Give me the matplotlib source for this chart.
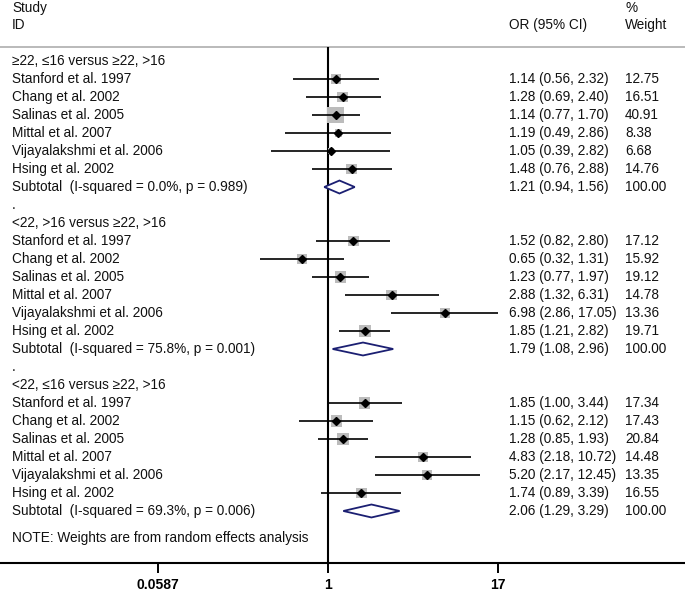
import numpy as np
import matplotlib
matplotlib.use("Agg")
import matplotlib.pyplot as plt
import matplotlib.transforms as mtransforms

plt.rcParams["font.family"] = ["Liberation Sans", "DejaVu Sans"]
plt.rcParams["font.size"] = 9.8

# >>>>>>>>>>>>>> data
studies = ["Stanford et al. 1997", "Chang et al. 2002", "Salinas et al. 2005",
           "Mittal et al. 2007", "Vijayalakshmi et al. 2006", "Hsing et al. 2002"]
group_titles = ["\u226522, \u226416 versus \u226522, >16",
                "<22, >16 versus \u226522, >16",
                "<22, \u226416 versus \u226522, >16"]

or_g1 = [1.14, 1.28, 1.14, 1.19, 1.05, 1.48]
lo_g1 = [0.56, 0.69, 0.77, 0.49, 0.39, 0.76]
hi_g1 = [2.32, 2.40, 1.70, 2.86, 2.82, 2.88]
wt_g1 = [12.75, 16.51, 40.91, 8.38, 6.68, 14.76]

or_g2 = [1.52, 0.65, 1.23, 2.88, 6.98, 1.85]
lo_g2 = [0.82, 0.32, 0.77, 1.32, 2.86, 1.21]
hi_g2 = [2.80, 1.31, 1.97, 6.31, 17.05, 2.82]
wt_g2 = [17.12, 15.92, 19.12, 14.78, 13.36, 19.71]

or_g3 = [1.85, 1.15, 1.28, 4.83, 5.20, 1.74]
lo_g3 = [1.00, 0.62, 0.85, 2.18, 2.17, 0.89]
hi_g3 = [3.44, 2.12, 1.93, 10.72, 12.45, 3.39]
wt_g3 = [17.34, 17.43, 20.84, 14.48, 13.35, 16.55]

sub_or = [1.21, 1.79, 2.06]
sub_lo = [0.94, 1.08, 1.29]
sub_hi = [1.56, 2.96, 3.29]
sub_i2 = ["0.0", "75.8", "69.3"]
sub_p = ["0.989", "0.001", "0.006"]

tick_vals = [0.0587, 1, 17]
tick_labels = ["0.0587", "1", "17"]

groups = [(or_g1, lo_g1, hi_g1, wt_g1),
          (or_g2, lo_g2, hi_g2, wt_g2),
          (or_g3, lo_g3, hi_g3, wt_g3)]

# >>>>>>>>>>>>>> layout
px_per_ln = 60.1
x_one = 328.0
fig_w, fig_h = 685, 591
fig = plt.figure(figsize=(fig_w / 100, fig_h / 100), dpi=100)
ax = fig.add_axes([0, (fig_h - 563) / fig_h, 1, 563 / fig_h])
ax.set_xscale("log")
ax.set_xlim(np.exp(-x_one / px_per_ln), np.exp((fig_w - x_one) / px_per_ln))
ax.set_ylim(27.89, -3.39)

for s in ["top", "left", "right"]:
    ax.spines[s].set_visible(False)
ax.spines["bottom"].set_linewidth(1.5)
ax.set_yticks([])
ax.set_xticks(tick_vals)
ax.set_xticklabels(tick_labels, fontweight="bold", fontsize=10)
ax.minorticks_off()
ax.tick_params(axis="x", direction="out", length=7.5, width=1.4, pad=3)

trans = mtransforms.blended_transform_factory(ax.transAxes, ax.transData)
col_id = 12 / fig_w
col_est = 509 / fig_w
col_wt = 625 / fig_w
tc = "#111111"

# header
ax.text(col_id, -2.94, "Study", transform=trans, va="center", color=tc)
ax.text(col_id, -2.0, "ID", transform=trans, va="center", color=tc)
ax.text(col_est, -2.0, "OR (95% CI)", transform=trans, va="center", color=tc)
ax.text(col_wt, -2.94, "%", transform=trans, va="center", color=tc)
ax.text(col_wt, -2.0, "Weight", transform=trans, va="center", color=tc)
ax.axhline(-0.78, color="#b4b4b4", lw=1.3)
ax.vlines(1, -0.78, 27.89, color="black", lw=1.5)

# >>>>>>>>>>>>>> groups
for g, (ors, los, his, wts) in enumerate(groups):
    base = g * 9
    if g > 0:
        ax.text(col_id, base - 1, ".", transform=trans, va="center", color=tc)
    ax.text(col_id, base, group_titles[g], transform=trans, va="center", color=tc)
    rows = base + 1 + np.arange(len(studies))
    ax.scatter(ors, rows, s=np.array(wts) * 3.65, marker="s", color="#bcbcbc",
               linewidths=0, zorder=2)
    ax.hlines(rows, los, his, color="black", lw=1.2, zorder=3)
    ax.plot(ors, rows, "D", color="black", ms=4.2, zorder=4)
    for r, name, o, lo, hi, w in zip(rows, studies, ors, los, his, wts):
        ax.text(col_id, r, name, transform=trans, va="center", color=tc)
        ax.text(col_est, r, f"{o:.2f} ({lo:.2f}, {hi:.2f})", transform=trans,
                va="center", color=tc)
        ax.text(col_wt, r, f"{w:.2f}", transform=trans, va="center", color=tc)
    rs = base + 7
    h = 0.36
    ax.fill([sub_lo[g], sub_or[g], sub_hi[g], sub_or[g]], [rs, rs - h, rs, rs + h],
            facecolor="white", edgecolor="#1b1f72", lw=1.3, zorder=3)
    ax.text(col_id, rs, f"Subtotal  (I-squared = {sub_i2[g]}%, p = {sub_p[g]})",
            transform=trans, va="center", color=tc)
    ax.text(col_est, rs, f"{sub_or[g]:.2f} ({sub_lo[g]:.2f}, {sub_hi[g]:.2f})",
            transform=trans, va="center", color=tc)
    ax.text(col_wt, rs, "100.00", transform=trans, va="center", color=tc)

ax.text(col_id, 26.5, "NOTE: Weights are from random effects analysis",
        transform=trans, va="center", color=tc)

plt.savefig("out.png", dpi=100)
